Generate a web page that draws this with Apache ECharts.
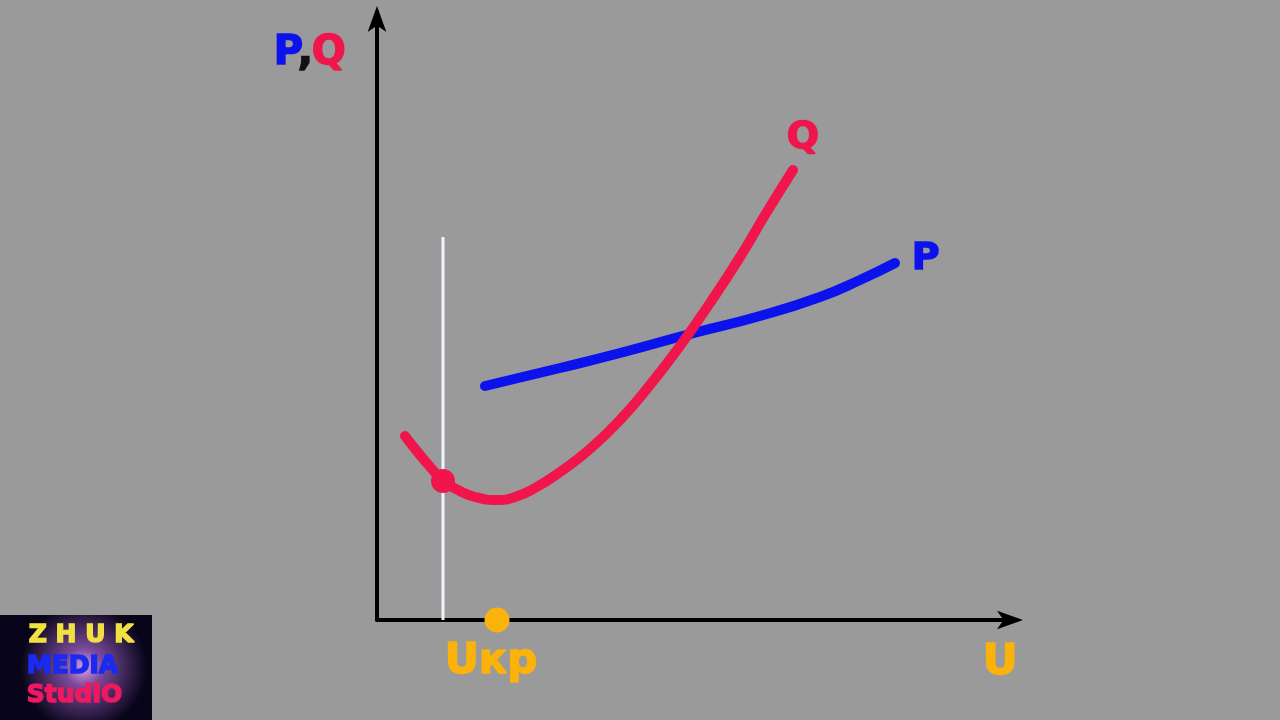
<!DOCTYPE html>
<html><head><meta charset="utf-8">
<script src="https://cdn.jsdelivr.net/npm/echarts@6/dist/echarts.min.js"></script>
<style>html,body{margin:0;padding:0;background:#9a9a9a;}#c{width:1280px;height:720px;}</style>
</head><body><div id="c"></div>
<script>
// Values (U on x, P/Q on y, arbitrary units)
const qCurve = [[28,184],[43,165],[55,151],[66,139],[81,130],[98,123],[120,120],[138,123],[158,132],[183,148],[213,171],[243,200],[273,235],[303,274],[333,317],[363,363],[388,405],[416,450]];
const pCurve = [[108,234],[183,252],[243,267],[313,286],[383,304],[443,323],[483,340],[518,357]];
const workPoint = [[66,139]];
const workLine = [[66,0],[66,383]];
const uCritical = [[120,0]];
const axisTitles = {y:['P',',','Q'], x:'U', crit:'Uкр'};
const curveNames = ['Q','P'];
const logoWords = ['Z H U K','MEDIA','StudiO'];

const chart = echarts.init(document.getElementById('c'));
const F = '"DejaVu Sans", sans-serif';
const RED = '#f0164c', BLUE = '#0c12ee', ORANGE = '#fbb20a';
function txt(left, top, text, size, color, sw){
  return {type:'text', left:left, top:top, z:10, style:{text:text, font:'bold '+size+'px '+F, fill:color, stroke:color, lineWidth:sw===undefined?1.5:sw}};
}
chart.setOption({
  backgroundColor:'#9a9a9a',
  animation:false,
  grid:{left:377, right:263, top:12, bottom:100},
  xAxis:{type:'value', min:0, max:640, splitLine:{show:false}, axisTick:{show:false}, axisLabel:{show:false},
    axisLine:{show:true, onZero:false, symbol:['none','arrow'], symbolSize:[14,26], symbolOffset:[0,6], lineStyle:{color:'#000', width:4}}},
  yAxis:{type:'value', min:0, max:608, splitLine:{show:false}, axisTick:{show:false}, axisLabel:{show:false},
    axisLine:{show:true, onZero:false, symbol:['none','arrow'], symbolSize:[14,26], symbolOffset:[0,6], lineStyle:{color:'#000', width:4}}},
  series:[
    {type:'line', data:workLine, symbol:'none', lineStyle:{color:'#f2f4ff', width:3}, z:2},
    {type:'line', data:pCurve, smooth:true, symbol:'none', lineStyle:{color:BLUE, width:10, cap:'round'}, z:3},
    {type:'line', data:qCurve, smooth:true, symbol:'none', lineStyle:{color:RED, width:10, cap:'round'}, z:4},
    {type:'scatter', data:workPoint, symbolSize:24, itemStyle:{color:RED, opacity:1}, z:5},
    {type:'scatter', data:uCritical, symbolSize:25, itemStyle:{color:ORANGE, opacity:1}, z:5}
  ],
  graphic:[
    txt(273, 33, axisTitles.y[0], 40, BLUE),
    txt(297, 33, axisTitles.y[1], 40, '#111'),
    txt(311, 33, axisTitles.y[2], 40, RED),
    txt(786, 118, curveNames[0], 38, RED),
    txt(911, 239, curveNames[1], 38, BLUE),
    txt(444, 640, axisTitles.crit, 42, ORANGE),
    txt(982, 641, axisTitles.x, 43, ORANGE),
    {type:'rect', left:0, top:615, shape:{width:152, height:105},
      style:{fill:{type:'radial', x:0.55, y:0.5, r:0.6, colorStops:[{offset:0,color:'#d9a0e0'},{offset:0.3,color:'#7a4a9a'},{offset:1,color:'#08051a'}]}}},
    txt(28, 622, logoWords[0], 25, '#f0e040', 1.5),
    txt(26, 653, logoWords[1], 25, '#1a2af0', 1.5),
    txt(26, 682, logoWords[2], 25, '#f01860', 1.5)
  ]
});
</script></body></html>
